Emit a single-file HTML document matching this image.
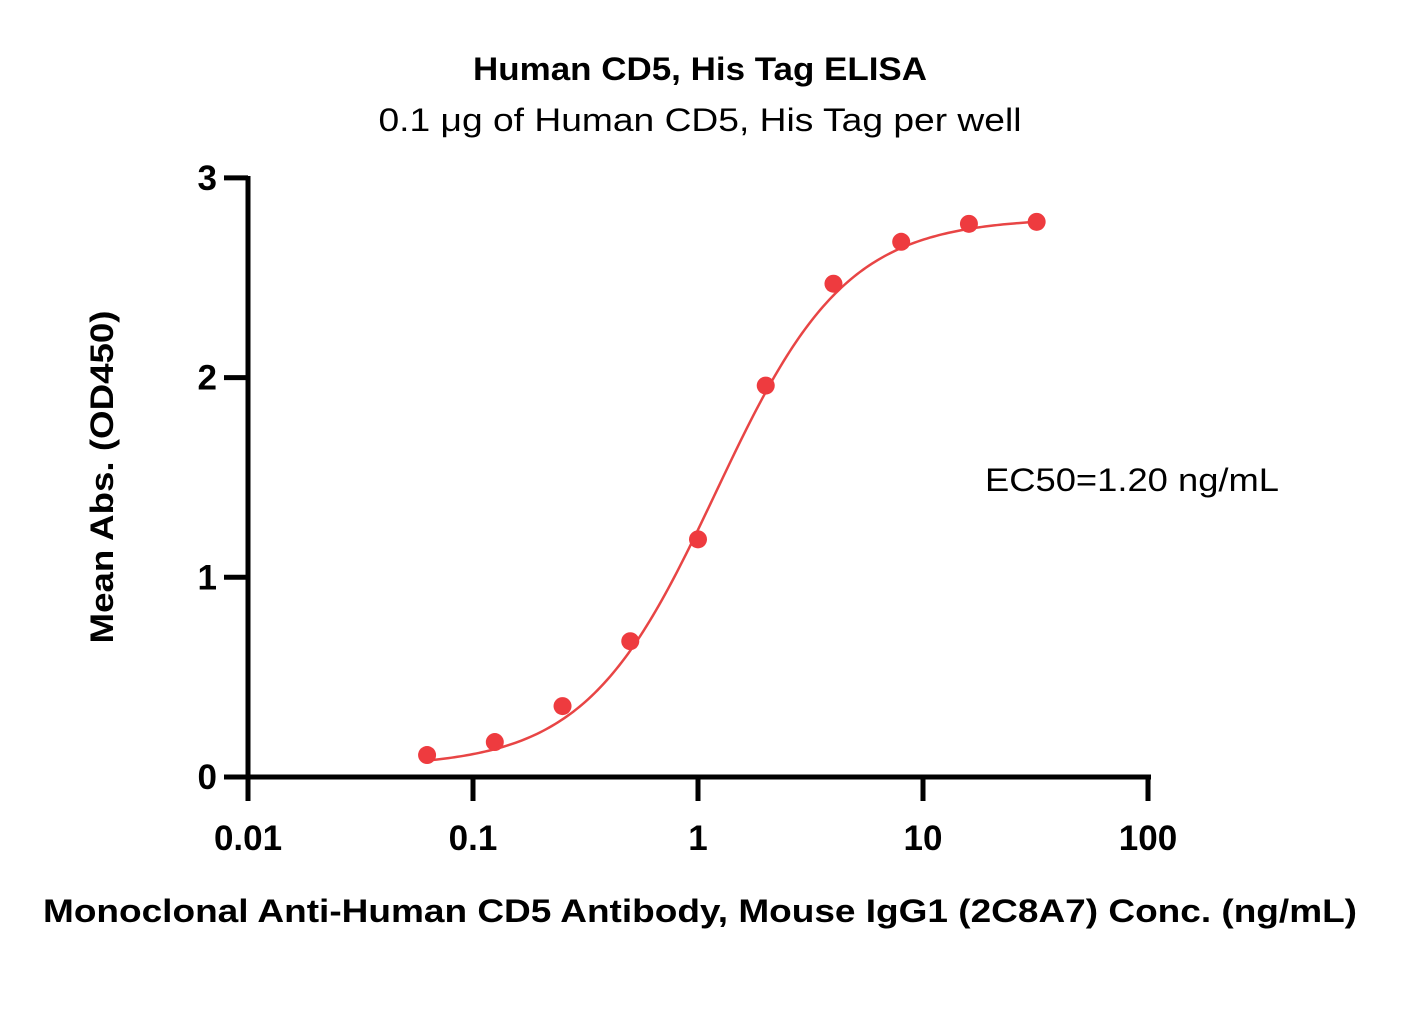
<!DOCTYPE html>
<html><head><meta charset="utf-8">
<style>
html,body{margin:0;padding:0;background:#fff;}
svg{display:block;font-family:"Liberation Sans",sans-serif;}
</style></head>
<body>
<svg id="chart" width="1401" height="1029" viewBox="0 0 1401 1029" xmlns="http://www.w3.org/2000/svg">
<rect width="1401" height="1029" fill="#fff"/>
<text x="700" y="80" text-anchor="middle" font-size="32" font-weight="bold" textLength="454" lengthAdjust="spacingAndGlyphs">Human CD5, His Tag ELISA</text>
<text x="700" y="131" text-anchor="middle" font-size="32" textLength="643" lengthAdjust="spacingAndGlyphs">0.1 μg of Human CD5, His Tag per well</text>
<text transform="translate(113,477) rotate(-90)" text-anchor="middle" font-size="32" font-weight="bold" textLength="333" lengthAdjust="spacingAndGlyphs">Mean Abs. (OD450)</text>
<text x="700" y="922" text-anchor="middle" font-size="32" font-weight="bold" textLength="1314" lengthAdjust="spacingAndGlyphs">Monoclonal Anti-Human CD5 Antibody, Mouse IgG1 (2C8A7) Conc. (ng/mL)</text>
<text x="985" y="491" font-size="32" textLength="294" lengthAdjust="spacingAndGlyphs">EC50=1.20 ng/mL</text>
<g id="axes"></g>
<g id="curve"></g>
<g id="points"></g>
</svg>
<script>
const concentrations=[0.0625,0.125,0.25,0.5,1,2,4,8,16,32];
const absorbance=[0.11,0.175,0.355,0.68,1.19,1.96,2.47,2.68,2.77,2.78];
const xTicks=[0.01,0.1,1,10,100];
const xTickLabels=["0.01","0.1","1","10","100"];
const yTicks=[0,1,2,3];
const yTickLabels=["0","1","2","3"];
const fitBottom=0.05, fitTop=2.8, fitEC50=1.2, fitHill=1.5;

const NS="http://www.w3.org/2000/svg";
function xs(v){return 248+225*(Math.log10(v)+2);}
function ys(v){return 777-199.7*v;}
function mk(tag,attrs,parent){const e=document.createElementNS(NS,tag);for(const k in attrs)e.setAttribute(k,attrs[k]);parent.appendChild(e);return e;}
const axes=document.getElementById('axes');
let a=mk('line',{x1:248,y1:176,x2:248,y2:779.5,stroke:'#000','stroke-width':5},axes);


a=mk('line',{x1:245.5,y1:777,x2:1151,y2:777,stroke:'#000','stroke-width':5},axes);


xTicks.forEach((t,i)=>{
  const x=xs(t);
  const l=mk('line',{x1:x,y1:777,x2:x,y2:801,stroke:'#000','stroke-width':5},axes);
  
  
  const tx=mk('text',{x:x,y:850,'text-anchor':'middle','font-size':35,'font-weight':'bold'},axes);
  tx.textContent=xTickLabels[i];
  
  
});
yTicks.forEach((t,i)=>{
  const y=ys(t);
  const l=mk('line',{x1:224,y1:y,x2:248,y2:y,stroke:'#000','stroke-width':5},axes);
  
  
  const tx=mk('text',{x:217,y:y+12,'text-anchor':'end','font-size':35,'font-weight':'bold'},axes);
  tx.textContent=yTickLabels[i];
  
  
});
function fit(x){return fitBottom+(fitTop-fitBottom)/(1+Math.pow(fitEC50/x,fitHill));}
let d='';
const lo=Math.log10(concentrations[0]),hi=Math.log10(concentrations[concentrations.length-1]);
for(let i=0;i<=200;i++){const lx=lo+(hi-lo)*i/200;const x=Math.pow(10,lx);d+=(i?'L':'M')+xs(x).toFixed(2)+','+ys(fit(x)).toFixed(2);}
const p=mk('path',{d:d,fill:'none',stroke:'#e84545','stroke-width':2.5},document.getElementById('curve'));


const pts=document.getElementById('points');
concentrations.forEach((c,i)=>{
  const ci=mk('circle',{cx:xs(c),cy:ys(absorbance[i]),r:9,fill:'#ee3b3f'},pts);
  
  
});
</script>
</body></html>
